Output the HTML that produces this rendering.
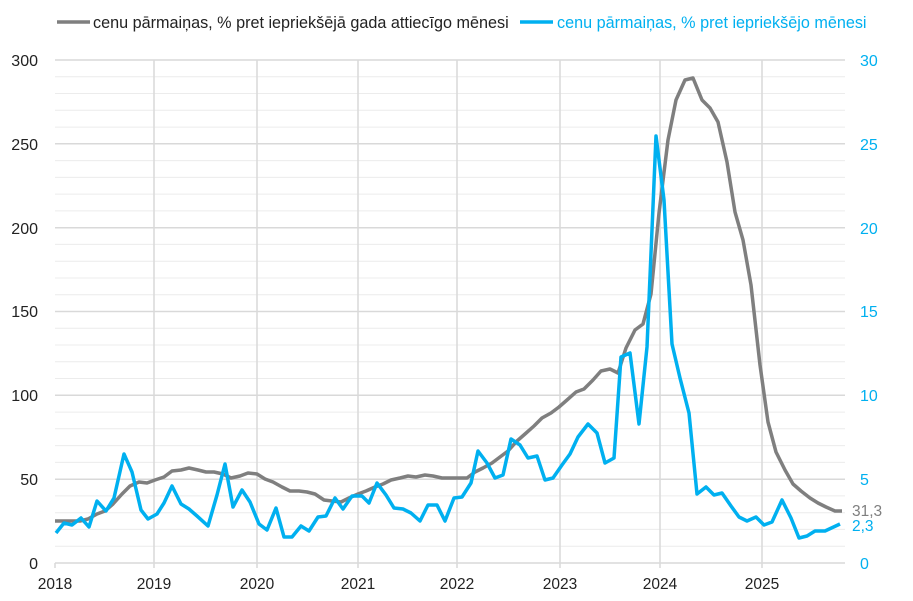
<!DOCTYPE html>
<html><head><meta charset="utf-8"><style>body{margin:0;background:#fff}svg{display:block;font-family:"Liberation Sans",sans-serif}</style></head><body>
<svg width="913" height="601" viewBox="0 0 913 601">
<g stroke="#ececec" stroke-width="1">
<line x1="55" x2="845" y1="76.8" y2="76.8"/><line x1="55" x2="845" y1="93.5" y2="93.5"/><line x1="55" x2="845" y1="110.3" y2="110.3"/><line x1="55" x2="845" y1="127.1" y2="127.1"/>
<line x1="55" x2="845" y1="160.6" y2="160.6"/><line x1="55" x2="845" y1="177.4" y2="177.4"/><line x1="55" x2="845" y1="194.1" y2="194.1"/><line x1="55" x2="845" y1="210.9" y2="210.9"/>
<line x1="55" x2="845" y1="244.4" y2="244.4"/><line x1="55" x2="845" y1="261.2" y2="261.2"/><line x1="55" x2="845" y1="278" y2="278"/><line x1="55" x2="845" y1="294.7" y2="294.7"/>
<line x1="55" x2="845" y1="328.3" y2="328.3"/><line x1="55" x2="845" y1="345" y2="345"/><line x1="55" x2="845" y1="361.8" y2="361.8"/><line x1="55" x2="845" y1="378.5" y2="378.5"/>
<line x1="55" x2="845" y1="412.1" y2="412.1"/><line x1="55" x2="845" y1="428.8" y2="428.8"/><line x1="55" x2="845" y1="445.6" y2="445.6"/><line x1="55" x2="845" y1="462.4" y2="462.4"/>
<line x1="55" x2="845" y1="495.9" y2="495.9"/><line x1="55" x2="845" y1="512.7" y2="512.7"/><line x1="55" x2="845" y1="529.4" y2="529.4"/><line x1="55" x2="845" y1="546.2" y2="546.2"/>
</g>
<g stroke="#d9d9d9" stroke-width="1.5">
<line x1="55" x2="845" y1="60" y2="60"/><line x1="55" x2="845" y1="143.8" y2="143.8"/><line x1="55" x2="845" y1="227.7" y2="227.7"/><line x1="55" x2="845" y1="311.5" y2="311.5"/><line x1="55" x2="845" y1="395.3" y2="395.3"/><line x1="55" x2="845" y1="479.2" y2="479.2"/><line x1="55" x2="845" y1="563" y2="563"/>
<line x1="154" x2="154" y1="60" y2="568"/><line x1="257" x2="257" y1="60" y2="568"/><line x1="358" x2="358" y1="60" y2="568"/><line x1="457" x2="457" y1="60" y2="568"/><line x1="560" x2="560" y1="60" y2="568"/><line x1="660" x2="660" y1="60" y2="568"/><line x1="762" x2="762" y1="60" y2="568"/><line x1="55" x2="55" y1="563" y2="568"/>
</g>
<polyline fill="none" stroke="#7f7f7f" stroke-width="3.5" stroke-linejoin="round" points="55,521 63,521 72,521 80,521 88,519 97,514 105,511 113,504 122,494 130,486 139,482 147,483 155,480 164,477 172,471 181,470 189,468 198,470 206,472 214,472 223,474 231,478 240,476 248,473 257,474 265,479 273,482 282,487 290,491 299,491 307,492 315,494 324,500 332,501 341,502 349,498 358,494 366,491 375,487 383,484 391,480 400,478 408,476 416,477 425,475 433,476 442,478 450,478 458,478 467,478 475,472 483,468 492,463 500,457 508,451 517,441 525,434 534,426 542,418 551,413 559,407 567,400 576,392 584,389 593,380 601,371 610,369 618,373 626,348 635,330 643,324 651,294 659,213 668,140 676,100 685,80 693,78 702,100 710,108 718,122 727,162 735,212 743,240 751,285 760,365 768,422 776,452 785,470 793,484 801,491 810,498 818,503 826,507 835,511 842,511"/>
<polyline fill="none" stroke="#00b0f0" stroke-width="3.5" stroke-linejoin="round" points="56,533 64,523 72,525 81,518 89,527 97,501 106,511 114,498 124,454 132,472 141,510 148,519 157,514 164,503 172,486 181,504 189,509 197,516 208,526 217,495 225,464 233,507 242,490 250,502 259,524 267,530 276,508 284,537 292,537 301,526 309,531 318,517 326,516 335,498 343,509 352,496 362,496 369,503 377,483 386,495 394,508 403,509 411,513 420,521 428,505 437,505 445,521 454,498 462,497 471,483 478,451 487,463 495,478 503,475 511,439 520,445 528,458 537,456 545,480 553,478 562,465 570,454 578,437 588,424 597,433 605,463 614,458 621,357 630,353 639,424 647,347 656,136 664,200 672,344 680,378 689,413 697,494 706,487 714,495 722,493 731,506 739,517 747,521 756,517 764,525 772,522 782,500 791,518 799,538 807,536 815,531 825,531 840,524"/>
<g font-size="16" fill="#222" text-anchor="end">
<text x="38" y="66">300</text><text x="38" y="150">250</text><text x="38" y="234">200</text><text x="38" y="317">150</text><text x="38" y="401">100</text><text x="38" y="485">50</text><text x="38" y="569">0</text>
</g>
<g font-size="16" fill="#00b0f0">
<text x="860" y="66">30</text><text x="860" y="150">25</text><text x="860" y="234">20</text><text x="860" y="317">15</text><text x="860" y="401">10</text><text x="860" y="485">5</text><text x="860" y="569">0</text>
</g>
<g font-size="15.5" fill="#222" text-anchor="middle">
<text x="55" y="589">2018</text><text x="154" y="589">2019</text><text x="257" y="589">2020</text><text x="358" y="589">2021</text><text x="457" y="589">2022</text><text x="560" y="589">2023</text><text x="660" y="589">2024</text><text x="762" y="589">2025</text>
</g>
<text x="852" y="516" font-size="15.5" fill="#7f7f7f">31,3</text>
<text x="852" y="531" font-size="15.5" fill="#00b0f0">2,3</text>
<line x1="57" x2="90" y1="22" y2="22" stroke="#7f7f7f" stroke-width="3.5"/>
<text x="93" y="28" font-size="16.2" fill="#222">cenu pārmaiņas, % pret iepriekšējā gada attiecīgo mēnesi</text>
<line x1="520" x2="553" y1="22" y2="22" stroke="#00b0f0" stroke-width="3.5"/>
<text x="557" y="28" font-size="16.2" fill="#00b0f0">cenu pārmaiņas, % pret iepriekšējo mēnesi</text>
</svg>
</body></html>
